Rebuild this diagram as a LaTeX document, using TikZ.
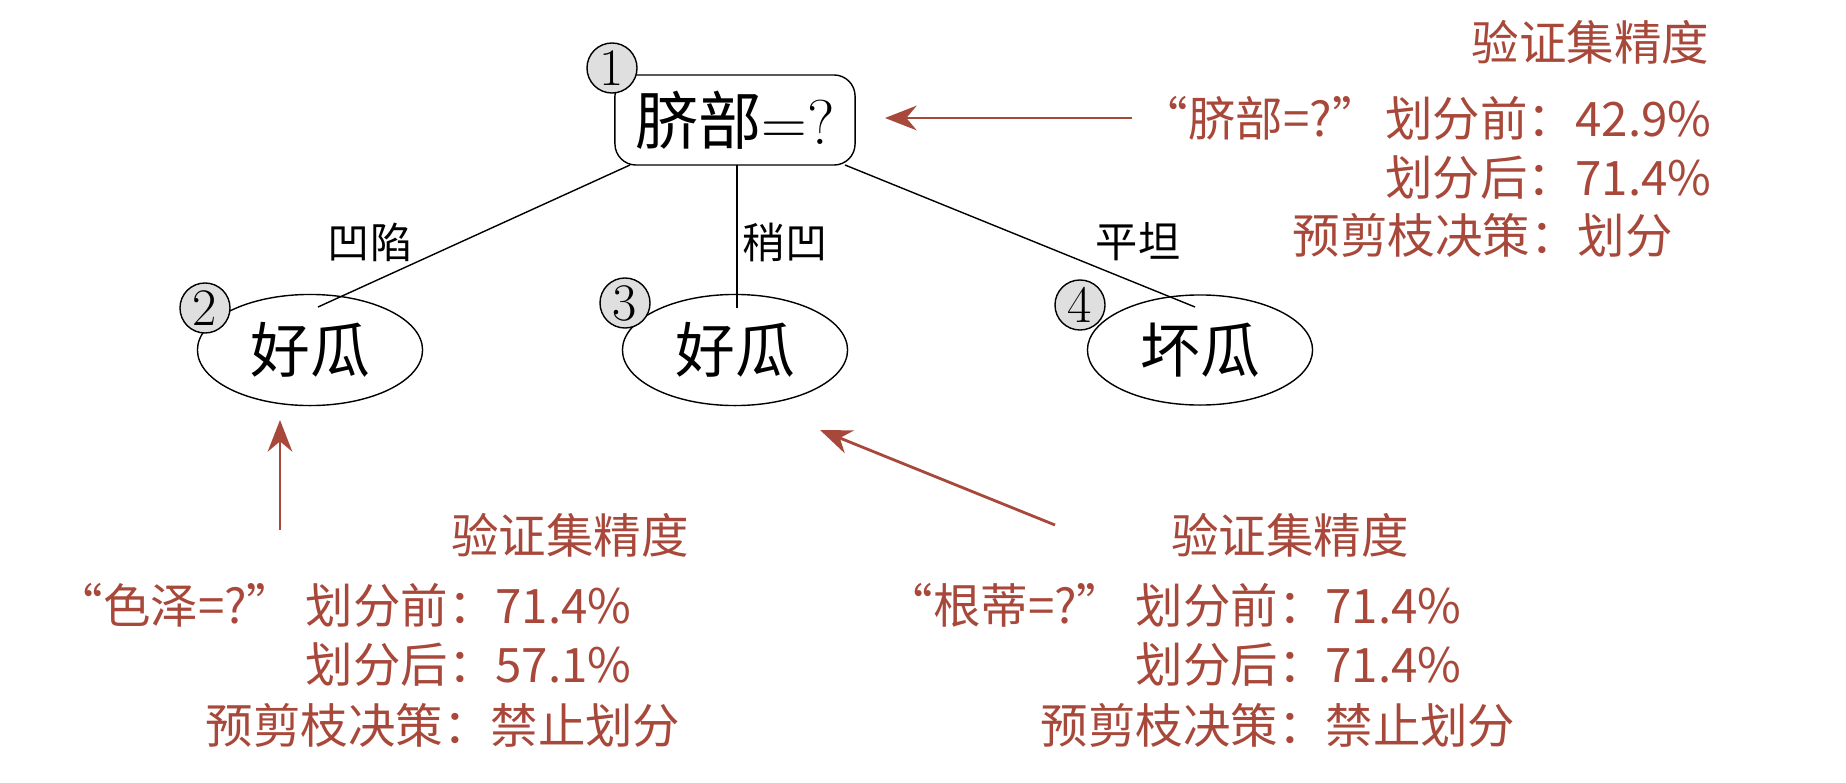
\documentclass[tikz,border=0pt]{standalone}
\usepackage{fontspec}
\newfontfamily\cjk{Noto Sans CJK SC}
\usetikzlibrary{shapes.geometric,arrows.meta}
\definecolor{rd}{RGB}{168,72,58}
\begin{document}
\begin{tikzpicture}[x=0.01cm,y=-0.01cm,
  num/.style={circle,draw,fill=gray!25,minimum size=0.5cm,inner sep=0pt,font=\fontsize{15}{15}\selectfont},
  leaf/.style={ellipse,draw,minimum width=2.25cm,minimum height=0.8cm,font=\cjk\fontsize{17}{17}\selectfont},
  elab/.style={font=\cjk\fontsize{12}{12}\selectfont},
  rt/.style={text=rd,font=\cjk\fontsize{13.5}{14}\selectfont,inner sep=0pt},
  rarr/.style={draw=rd,thick,-{Stealth[length=9pt,width=7pt]}}]
\useasboundingbox (0,0) rectangle (1846,782);
\node[draw,rounded corners=6pt,minimum width=2.4cm,minimum height=0.9cm,font=\fontsize{18}{18}\selectfont] (root) at (735,120) {{\cjk 脐部}=?};
\node[num] (n1) at (612,68) {1};
\node[leaf] (l2) at (310,350) {好瓜};
\node[leaf] (l3) at (735,350) {好瓜};
\node[leaf] (l4) at (1200,350) {坏瓜};
\node[num] (n2) at (205,308) {2};
\node[num] (n3) at (625,303) {3};
\node[num] (n4) at (1080,305) {4};
\coordinate (rA) at (630,165); \coordinate (rB) at (737,165); \coordinate (rC) at (845,165);
\coordinate (tA) at (318,307); \coordinate (tB) at (737,308); \coordinate (tC) at (1195,307);
\draw (rA) -- (tA); \draw (rB) -- (tB); \draw (rC) -- (tC);
\node[elab] (e1) at (370,242) {凹陷};
\node[elab] (e2) at (785,242) {稍凹};
\node[elab] (e3) at (1138,242) {平坦};
% top right
\node[rt,anchor=east] (t0) at (1710,42) {验证集精度};
\node[rt,anchor=west] (t1a) at (1140,118) {“脐部=?”};
\node[rt,anchor=east] (t1) at (1712,118) {划分前：42.9\%};
\node[rt,anchor=east] (t2) at (1712,178) {划分后：71.4\%};
\node[rt,anchor=west] (t3) at (1292,235) {预剪枝决策：划分};
\coordinate (a1s) at (1132,118); \coordinate (a1e) at (885,118);
\draw[rarr] (a1s) -- (a1e);
% bottom left
\node[rt,anchor=center] (b0) at (570,535) {验证集精度};
\node[rt,anchor=west] (b1a) at (55,605) {“色泽=?”};
\node[rt,anchor=west] (b1) at (305,605) {划分前：71.4\%};
\node[rt,anchor=west] (b2) at (305,665) {划分后：57.1\%};
\node[rt,anchor=west] (b3) at (205,725) {预剪枝决策：禁止划分};
\coordinate (a2s) at (280,530); \coordinate (a2e) at (280,420);
\draw[rarr] (a2s) -- (a2e);
% bottom right
\node[rt,anchor=center] (c0) at (1290,535) {验证集精度};
\node[rt,anchor=west] (c1a) at (885,605) {“根蒂=?”};
\node[rt,anchor=west] (c1) at (1135,605) {划分前：71.4\%};
\node[rt,anchor=west] (c2) at (1135,665) {划分后：71.4\%};
\node[rt,anchor=west] (c3) at (1040,725) {预剪枝决策：禁止划分};
\coordinate (a3s) at (1055,525); \coordinate (a3e) at (820,430);
\draw[rarr] (a3s) -- (a3e);
\end{tikzpicture}
\end{document}
